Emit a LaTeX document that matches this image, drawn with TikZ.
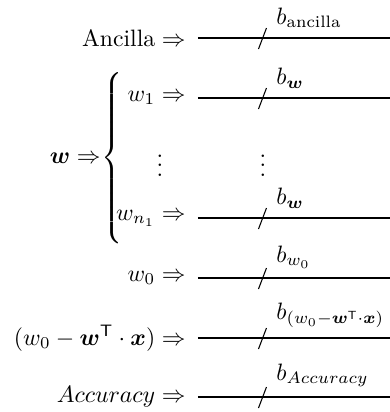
\documentclass[tikz,border=0pt]{standalone}
\usepackage{amsmath,amssymb,bm}
\usepackage{tikz}
\usetikzlibrary{positioning,calc}

\begin{document}
\begin{tikzpicture}[x=0.4219pt,y=-0.4219pt,
    eingang/.style={anchor=east,inner sep=0pt},
    buendel/.style={anchor=south west,inner sep=0pt},
    leitung/.style={line width=0.45pt}]
        \useasboundingbox (0,0) rectangle (390,412);

        % Eingaenge links
        \node[eingang] (anc)  at (186,38)  {$\text{Ancilla} \Rightarrow$};
        \node[eingang] (w1)   at (186,98)  {$w_1 \Rightarrow$};
        \node[eingang] (wn)   at (186,218) {$w_{n_1} \Rightarrow$};
        \node[eingang] (w0)   at (186,278) {$w_0 \Rightarrow$};
        \node[eingang] (diff) at (186,338) {$(w_0 - \bm{w}^{\mathsf{T}} \cdot \bm{x}) \Rightarrow$};
        \node[eingang] (acc)  at (186,397) {$Accuracy \Rightarrow$};

        % Gewichtsvektor mit Klammer
        \node[eingang] (wvec) at (101,158) {$\bm{w} \Rightarrow$};
        \node[anchor=west,inner sep=0pt] (klammer) at (wvec.east)
          {$\left\{\vcenter{\hbox{\rule{0pt}{76pt}}}\right.$};
        \node[anchor=base,inner sep=0pt] (pktl) at (160,176) {$\vdots$};
        \node[anchor=base,inner sep=0pt] (pktr) at (263,176) {$\vdots$};

        % Leitungen mit Buendelstrich
        \foreach \n/\yy in {anc/38,w1/98,wn/218,w0/278,diff/338,acc/397} {
          \coordinate (\n-a) at (198,\yy);
          \coordinate (\n-e) at (390,\yy);
          \draw[leitung] (\n-a) -- (\n-e);
          \draw[leitung] (258.5,\yy+11) -- (266.5,\yy-10);
        }

        % Bitbreiten
        \node[buendel] (banc)  at (276,28.5)  {$b_{\text{ancilla}}$};
        \node[buendel] (bw1)   at (276,88.5)  {$b_{\bm{w}}$};
        \node[buendel] (bwn)   at (276,208.5) {$b_{\bm{w}}$};
        \node[buendel] (bw0)   at (276,268.5) {$b_{w_0}$};
        \node[buendel] (bdiff) at (276,328.5) {$b_{(w_0 - \bm{w}^{\mathsf{T}} \cdot \bm{x})}$};
        \node[buendel] (bacc)  at (276,387.5) {$b_{Accuracy}$};
      \end{tikzpicture}
\end{document}
